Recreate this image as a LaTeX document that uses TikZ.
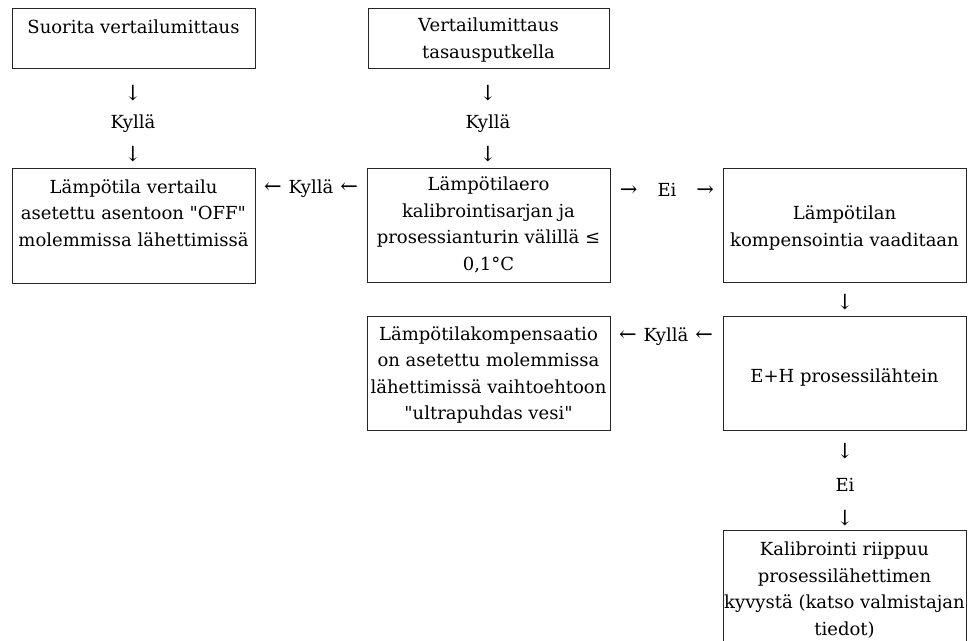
\documentclass[tikz,border=0pt]{standalone}
\usepackage{fontspec}
\setmainfont{DejaVu Serif}[Ligatures=TeXOff]
\begin{document}
\begin{tikzpicture}[x=1pt,y=-1pt,
  box/.style={draw=black!85,line width=0.9pt,inner sep=0pt,anchor=north west},
  txt/.style={align=center,inner sep=0pt,font=\fontsize{18}{26.5}\selectfont},
  lbl/.style={inner sep=0pt,font=\fontsize{18}{20}\selectfont},
  arr/.style={inner sep=0pt,font=\fontsize{21}{22}\selectfont}]
\useasboundingbox (0,0) rectangle (979,640);
\begin{scope}
\clip (0,0) rectangle (979,640);
% boxes
\node[box,minimum width=243pt,minimum height=60pt] (b1) at (12,8) {};
\node[box,minimum width=241pt,minimum height=60pt] (b3) at (368,8) {};
\node[box,minimum width=243pt,minimum height=115pt] (b2) at (12,168) {};
\node[box,minimum width=243pt,minimum height=114pt] (b4) at (367,168) {};
\node[box,minimum width=243pt,minimum height=114pt] (b5) at (723,168) {};
\node[box,minimum width=243pt,minimum height=114pt] (b6) at (367,316) {};
\node[box,minimum width=243pt,minimum height=114pt] (b7) at (723,316) {};
\node[box,minimum width=243pt,minimum height=140pt] (b8) at (723,530) {};
\end{scope}
% texts
\node[txt] (t1) at (133.5,27) {Suorita vertailumittaus};
\node[txt] (t3) at (488.5,40) {Vertailumittaus\\tasausputkella};
\node[txt] (t2) at (133.5,213) {Lämpötila vertailu\\asetettu asentoon "OFF"\\molemmissa lähettimissä};
\node[txt] (t4) at (488.5,225) {Lämpötilaero\\kalibrointisarjan ja\\prosessianturin välillä ≤\\0,1°C};
\node[txt] (t5) at (844.5,228) {Lämpötilan\\kompensointia vaaditaan};
\node[txt] (t6) at (488.5,375) {Lämpötilakompensaatio\\on asetettu molemmissa\\lähettimissä vaihtoehtoon\\"ultrapuhdas vesi"};
\node[txt] (t7) at (844.5,377) {E+H prosessilähtein};
\node[txt] (t8) at (844.5,590) {Kalibrointi riippuu\\prosessilähettimen\\kyvystä (katso valmistajan\\tiedot)};
% connector labels
\node[arr] (a1) at (133,93) {↓};
\node[lbl] (k1) at (133,124) {Kyllä};
\node[arr] (a2) at (133,154) {↓};
\node[arr] (a3) at (488,93) {↓};
\node[lbl] (k2) at (488,124) {Kyllä};
\node[arr] (a4) at (488,154) {↓};
\node[lbl] (k3) at (311,189) {{\fontsize{21}{22}\selectfont ←}\hspace{7pt}Kyllä\hspace{7pt}{\fontsize{21}{22}\selectfont ←}};
\node[lbl] (e1) at (667,190) {{\fontsize{21}{22}\selectfont →}\hspace{20pt}Ei\hspace{20pt}{\fontsize{21}{22}\selectfont →}};
\node[lbl] (k4) at (666,337) {{\fontsize{21}{22}\selectfont ←}\hspace{7pt}Kyllä\hspace{7pt}{\fontsize{21}{22}\selectfont ←}};
\node[arr] (a5) at (845,302) {↓};
\node[arr] (a6) at (845,451) {↓};
\node[lbl] (e2) at (845,485) {Ei};
\node[arr] (a7) at (845,518) {↓};
\end{tikzpicture}
\end{document}
